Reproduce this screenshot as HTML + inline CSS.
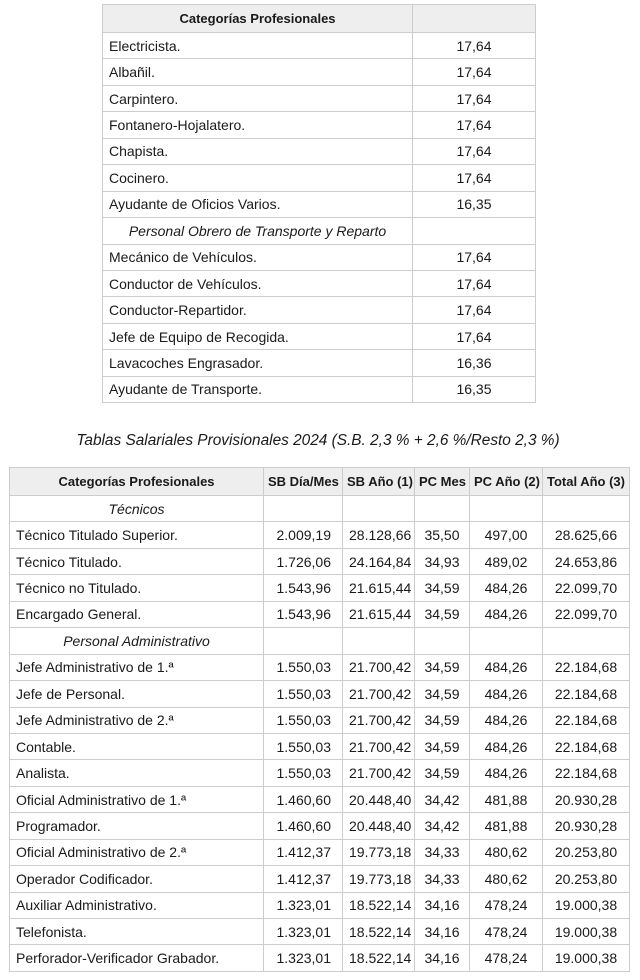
<!DOCTYPE html>
<html><head><meta charset="utf-8"><style>
body{margin:0;width:640px;height:980px;background:#fff;font-family:"Liberation Sans",sans-serif;color:#1a1a1a;position:relative;overflow:hidden}
table{border-collapse:collapse;position:absolute;table-layout:fixed}
td,th{border:1px solid #ccc;padding:0 6px;font-size:14px;height:25.44px;white-space:nowrap;overflow:hidden}
th{background:#eee;font-size:13px;font-weight:bold;height:27px;text-align:center;padding:0 4px}
td.c{text-align:center}
td.r{text-align:right;padding-right:11px}
td.i{font-style:italic;text-align:center}
.t{position:absolute;top:432px;left:0;width:636px;text-align:center;font-style:italic;font-size:15.4px}
</style></head><body>
<table style="left:102px;top:4px;width:433px">
<colgroup><col style="width:310px"><col style="width:123px"></colgroup>
<tr><th>Categorías Profesionales</th><th></th></tr>
<tr><td>Electricista.</td><td class="c">17,64</td></tr>
<tr><td>Albañil.</td><td class="c">17,64</td></tr>
<tr><td>Carpintero.</td><td class="c">17,64</td></tr>
<tr><td>Fontanero-Hojalatero.</td><td class="c">17,64</td></tr>
<tr><td>Chapista.</td><td class="c">17,64</td></tr>
<tr><td>Cocinero.</td><td class="c">17,64</td></tr>
<tr><td>Ayudante de Oficios Varios.</td><td class="c">16,35</td></tr>
<tr><td class="i">Personal Obrero de Transporte y Reparto</td><td></td></tr>
<tr><td>Mecánico de Vehículos.</td><td class="c">17,64</td></tr>
<tr><td>Conductor de Vehículos.</td><td class="c">17,64</td></tr>
<tr><td>Conductor-Repartidor.</td><td class="c">17,64</td></tr>
<tr><td>Jefe de Equipo de Recogida.</td><td class="c">17,64</td></tr>
<tr><td>Lavacoches Engrasador.</td><td class="c">16,36</td></tr>
<tr><td>Ayudante de Transporte.</td><td class="c">16,35</td></tr>
</table>
<div class="t">Tablas Salariales Provisionales 2024 (S.B. 2,3 % + 2,6 %/Resto 2,3 %)</div>
<table style="left:9px;top:467px;width:620px">
<colgroup><col style="width:254px"><col style="width:79px"><col style="width:72px"><col style="width:55px"><col style="width:73px"><col style="width:87px"></colgroup>
<tr><th>Categorías Profesionales</th><th>SB Día/Mes</th><th>SB Año (1)</th><th>PC Mes</th><th>PC Año (2)</th><th>Total Año (3)</th></tr>
<tr><td class="i">Técnicos</td><td></td><td></td><td></td><td></td><td></td></tr>
<tr><td>Técnico Titulado Superior.</td><td class="r">2.009,19</td><td class="c">28.128,66</td><td class="c">35,50</td><td class="c">497,00</td><td class="c">28.625,66</td></tr>
<tr><td>Técnico Titulado.</td><td class="r">1.726,06</td><td class="c">24.164,84</td><td class="c">34,93</td><td class="c">489,02</td><td class="c">24.653,86</td></tr>
<tr><td>Técnico no Titulado.</td><td class="r">1.543,96</td><td class="c">21.615,44</td><td class="c">34,59</td><td class="c">484,26</td><td class="c">22.099,70</td></tr>
<tr><td>Encargado General.</td><td class="r">1.543,96</td><td class="c">21.615,44</td><td class="c">34,59</td><td class="c">484,26</td><td class="c">22.099,70</td></tr>
<tr><td class="i">Personal Administrativo</td><td></td><td></td><td></td><td></td><td></td></tr>
<tr><td>Jefe Administrativo de 1.ª</td><td class="r">1.550,03</td><td class="c">21.700,42</td><td class="c">34,59</td><td class="c">484,26</td><td class="c">22.184,68</td></tr>
<tr><td>Jefe de Personal.</td><td class="r">1.550,03</td><td class="c">21.700,42</td><td class="c">34,59</td><td class="c">484,26</td><td class="c">22.184,68</td></tr>
<tr><td>Jefe Administrativo de 2.ª</td><td class="r">1.550,03</td><td class="c">21.700,42</td><td class="c">34,59</td><td class="c">484,26</td><td class="c">22.184,68</td></tr>
<tr><td>Contable.</td><td class="r">1.550,03</td><td class="c">21.700,42</td><td class="c">34,59</td><td class="c">484,26</td><td class="c">22.184,68</td></tr>
<tr><td>Analista.</td><td class="r">1.550,03</td><td class="c">21.700,42</td><td class="c">34,59</td><td class="c">484,26</td><td class="c">22.184,68</td></tr>
<tr><td>Oficial Administrativo de 1.ª</td><td class="r">1.460,60</td><td class="c">20.448,40</td><td class="c">34,42</td><td class="c">481,88</td><td class="c">20.930,28</td></tr>
<tr><td>Programador.</td><td class="r">1.460,60</td><td class="c">20.448,40</td><td class="c">34,42</td><td class="c">481,88</td><td class="c">20.930,28</td></tr>
<tr><td>Oficial Administrativo de 2.ª</td><td class="r">1.412,37</td><td class="c">19.773,18</td><td class="c">34,33</td><td class="c">480,62</td><td class="c">20.253,80</td></tr>
<tr><td>Operador Codificador.</td><td class="r">1.412,37</td><td class="c">19.773,18</td><td class="c">34,33</td><td class="c">480,62</td><td class="c">20.253,80</td></tr>
<tr><td>Auxiliar Administrativo.</td><td class="r">1.323,01</td><td class="c">18.522,14</td><td class="c">34,16</td><td class="c">478,24</td><td class="c">19.000,38</td></tr>
<tr><td>Telefonista.</td><td class="r">1.323,01</td><td class="c">18.522,14</td><td class="c">34,16</td><td class="c">478,24</td><td class="c">19.000,38</td></tr>
<tr><td>Perforador-Verificador Grabador.</td><td class="r">1.323,01</td><td class="c">18.522,14</td><td class="c">34,16</td><td class="c">478,24</td><td class="c">19.000,38</td></tr>
</table>
</body></html>
